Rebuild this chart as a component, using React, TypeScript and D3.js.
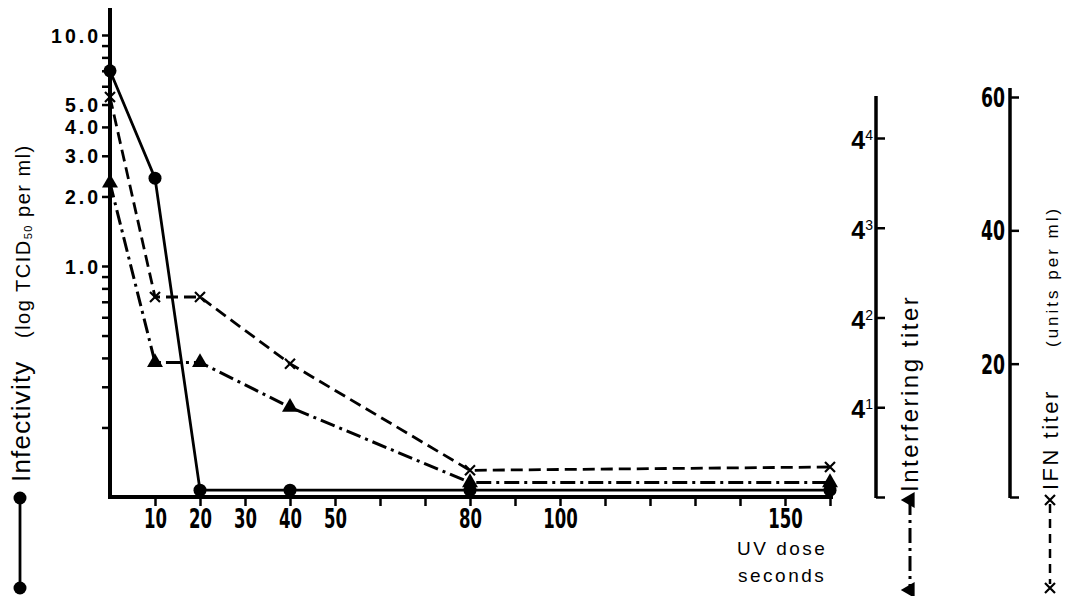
import { useEffect, useRef } from "react";
import * as d3 from "d3";

// UV dose (seconds) at which each sample was measured
const doses = [0, 10, 20, 40, 80, 160];
// infectivity, log TCID50 per ml (left log axis)
const infectivity = [7.0, 2.4, 0.107, 0.107, 0.107, 0.107];
// interfering titer (powers of 4)
const interfering = [128, 8, 8, 4, 1.25, 1.25];
// IFN titer, units per ml
const ifnTiter = [60, 30, 30, 20, 4, 4.5];

const doseTicks = [10, 20, 30, 40, 50, 60, 70, 80, 90, 100, 110, 120, 130, 140, 150, 160];
const doseLabels = [10, 20, 30, 40, 50, 80, 100, 150];
const infLabelTicks = [1, 2, 3, 4, 5, 10];
const infMinorTicks = [0.2, 0.3, 0.4, 0.5, 0.6, 0.7, 0.8, 0.9, 6, 7, 8, 9];
const interferingExps = [1, 2, 3, 4];
const ifnTicks = [20, 40, 60];

const SANS = "'Liberation Sans', Arial, sans-serif";
const NARROW = "'Liberation Sans Narrow', 'DejaVu Sans Condensed', 'Liberation Sans', sans-serif";

export default function App() {
  const ref = useRef(null);

  useEffect(() => {
    const svg = d3.select(ref.current);
    svg.selectAll("*").remove();

    const x = d3.scaleLinear().domain([0, 160]).range([110, 830]);
    const yInf = d3.scaleLog().domain([0.1, 10]).range([497, 35]);
    const yIntf = d3.scaleLog().base(4).domain([1, 256]).range([497, 138]);
    const yIfn = d3.scaleLinear().domain([0, 60]).range([497, 97]);

    // bottom axis
    const gx = svg
      .append("g")
      .attr("transform", "translate(0,497)")
      .call(
        d3
          .axisBottom(x)
          .tickValues(doseTicks)
          .tickSize(9)
          .tickSizeOuter(0)
          .tickFormat((d) => (doseLabels.includes(+d) ? String(d) : ""))
      );
    gx.select(".domain").remove();
    gx.selectAll("line").attr("stroke", "#000").attr("stroke-width", 2.5);
    gx.selectAll("text")
      .attr("y", 31)
      .attr("dy", 0)
      .attr("fill", "#000")
      .attr("font-family", NARROW)
      .attr("font-weight", "bold")
      .attr("font-size", 26)
      .attr("textLength", (d) => String(d).length * 11.5)
      .attr("lengthAdjust", "spacingAndGlyphs");

    // left axis
    const gy = svg
      .append("g")
      .attr("transform", "translate(110,0)")
      .call(
        d3
          .axisLeft(yInf)
          .tickValues([...infLabelTicks, ...infMinorTicks])
          .tickSize(8)
          .tickSizeOuter(0)
          .tickFormat((d) => (infLabelTicks.includes(+d) ? (+d).toFixed(1) : ""))
      );
    gy.select(".domain").remove();
    gy.selectAll("line").attr("stroke", "#000").attr("stroke-width", 2.5);
    gy.selectAll("text")
      .attr("x", -9)
      .attr("dy", 7)
      .attr("fill", "#000")
      .attr("font-family", SANS)
      .attr("font-weight", "bold")
      .attr("font-size", 19.5)
      .attr("letter-spacing", 3);

    svg.append("line")
      .attr("x1", 110).attr("x2", 110).attr("y1", 8).attr("y2", 499)
      .attr("stroke", "#000").attr("stroke-width", 4);
    svg.append("line")
      .attr("x1", 108).attr("x2", 833).attr("y1", 497).attr("y2", 497)
      .attr("stroke", "#000").attr("stroke-width", 4);

    // interfering titer axis
    const gi = svg
      .append("g")
      .attr("transform", "translate(876,0)")
      .call(
        d3
          .axisRight(yIntf)
          .tickValues([1, ...interferingExps.map((e) => Math.pow(4, e))])
          .tickSize(9)
          .tickSizeOuter(0)
          .tickFormat(() => "")
      );
    gi.select(".domain").remove();
    gi.selectAll("line").attr("stroke", "#000").attr("stroke-width", 2.5);
    svg.append("line")
      .attr("x1", 876).attr("x2", 876).attr("y1", 96).attr("y2", 498)
      .attr("stroke", "#000").attr("stroke-width", 3.5);
    const il = svg
      .selectAll("text.intf")
      .data(interferingExps)
      .join("text")
      .attr("class", "intf")
      .attr("x", 873)
      .attr("y", (e) => yIntf(Math.pow(4, e)) + 11)
      .attr("text-anchor", "end")
      .attr("font-family", SANS)
      .attr("fill", "#000");
    il.append("tspan").attr("font-weight", "bold").attr("font-size", 25).text("4");
    il.append("tspan").attr("font-size", 14).attr("dy", -9).text((e) => String(e));

    // IFN titer axis
    const gf = svg
      .append("g")
      .attr("transform", "translate(1010,0)")
      .call(
        d3
          .axisRight(yIfn)
          .tickValues([0, ...ifnTicks])
          .tickSize(9)
          .tickSizeOuter(0)
          .tickFormat(() => "")
      );
    gf.select(".domain").remove();
    gf.selectAll("line").attr("stroke", "#000").attr("stroke-width", 2.5);
    svg.append("line")
      .attr("x1", 1010).attr("x2", 1010).attr("y1", 88).attr("y2", 498)
      .attr("stroke", "#000").attr("stroke-width", 3.5);
    svg.selectAll("text.ifn")
      .data(ifnTicks)
      .join("text")
      .attr("class", "ifn")
      .attr("x", 1005)
      .attr("y", (d) => yIfn(d) + 10)
      .attr("text-anchor", "end")
      .attr("font-family", NARROW)
      .attr("font-weight", "bold")
      .attr("font-size", 26)
      .attr("textLength", 24)
      .attr("lengthAdjust", "spacingAndGlyphs")
      .text((d) => String(d));

    // series
    const pts = doses.map((d, i) => ({ d, inf: infectivity[i], intf: interfering[i], ifn: ifnTiter[i] }));

    svg.append("path")
      .datum(pts)
      .attr("fill", "none").attr("stroke", "#000").attr("stroke-width", 2.8)
      .attr("d", d3.line().x((p) => x(p.d)).y((p) => yInf(p.inf)));
    svg.append("path")
      .datum(pts)
      .attr("fill", "none").attr("stroke", "#000").attr("stroke-width", 3)
      .attr("stroke-dasharray", "15,5,3,5")
      .attr("d", d3.line().x((p) => x(p.d)).y((p) => yIntf(p.intf)));
    svg.append("path")
      .datum(pts)
      .attr("fill", "none").attr("stroke", "#000").attr("stroke-width", 2.8)
      .attr("stroke-dasharray", "12,6")
      .attr("d", d3.line().x((p) => x(p.d)).y((p) => yIfn(p.ifn)));

    svg.selectAll("circle.inf")
      .data(pts)
      .join("circle")
      .attr("class", "inf")
      .attr("cx", (p) => x(p.d))
      .attr("cy", (p) => yInf(p.inf))
      .attr("r", 6.5)
      .attr("fill", "#000");

    const tri = d3.symbol(d3.symbolTriangle, 110);
    svg.selectAll("path.tri")
      .data(pts)
      .join("path")
      .attr("class", "tri")
      .attr("transform", (p) => `translate(${x(p.d)},${yIntf(p.intf)})`)
      .attr("d", tri())
      .attr("fill", "#000");

    const cross = "M-5,-5L5,5M-5,5L5,-5";
    svg.selectAll("path.cross")
      .data(pts)
      .join("path")
      .attr("class", "cross")
      .attr("transform", (p) => `translate(${x(p.d)},${yIfn(p.ifn)})`)
      .attr("d", cross)
      .attr("stroke", "#000")
      .attr("stroke-width", 2.2);

    // axis titles
    const rot = (tx, ty) => `translate(${tx},${ty}) rotate(-90)`;
    svg.append("text")
      .attr("transform", rot(30, 482))
      .attr("font-family", SANS).attr("font-size", 26).attr("letter-spacing", 1.2)
      .text("Infectivity");
    const sub = svg.append("text")
      .attr("transform", rot(30, 338))
      .attr("font-family", SANS).attr("font-size", 20).attr("letter-spacing", 1.5);
    sub.append("tspan").text("(log TCID");
    sub.append("tspan").attr("font-size", 11).attr("dy", 2).text("50");
    sub.append("tspan").attr("dy", -2).text(" per ml)");

    svg.append("text")
      .attr("transform", rot(918, 492))
      .attr("font-family", SANS).attr("font-size", 24).attr("letter-spacing", 2.5)
      .text("Interfering titer");

    svg.append("text")
      .attr("transform", rot(1058, 490))
      .attr("font-family", SANS).attr("font-size", 22).attr("letter-spacing", 2.5)
      .text("IFN titer");
    svg.append("text")
      .attr("transform", rot(1058, 347))
      .attr("font-family", SANS).attr("font-size", 17).attr("letter-spacing", 3)
      .text("(units per ml)");

    svg.append("text")
      .attr("x", 737).attr("y", 555)
      .attr("font-family", SANS).attr("font-size", 19).attr("letter-spacing", 2.5)
      .text("UV dose");
    svg.append("text")
      .attr("x", 738).attr("y", 582)
      .attr("font-family", SANS).attr("font-size", 19).attr("letter-spacing", 2.5)
      .text("seconds");

    // legend keys below the rotated titles
    svg.append("line")
      .attr("x1", 20).attr("x2", 20).attr("y1", 498).attr("y2", 588)
      .attr("stroke", "#000").attr("stroke-width", 2.8);
    svg.selectAll("circle.key")
      .data([498, 588])
      .join("circle")
      .attr("class", "key")
      .attr("cx", 20).attr("cy", (d) => d).attr("r", 6.5).attr("fill", "#000");

    svg.append("line")
      .attr("x1", 910).attr("x2", 910).attr("y1", 500).attr("y2", 590)
      .attr("stroke", "#000").attr("stroke-width", 3)
      .attr("stroke-dasharray", "15,5,3,5");
    svg.selectAll("path.keytri")
      .data([500, 590])
      .join("path")
      .attr("class", "keytri")
      .attr("transform", (d) => `translate(910,${d}) rotate(-90)`)
      .attr("d", tri())
      .attr("fill", "#000");

    svg.append("line")
      .attr("x1", 1050).attr("x2", 1050).attr("y1", 504).attr("y2", 584)
      .attr("stroke", "#000").attr("stroke-width", 2.5)
      .attr("stroke-dasharray", "9,6");
    svg.selectAll("path.keycross")
      .data([500, 588])
      .join("path")
      .attr("class", "keycross")
      .attr("transform", (d) => `translate(1050,${d})`)
      .attr("d", cross)
      .attr("stroke", "#000")
      .attr("stroke-width", 2.2);
  });

  return (
    <svg
      ref={ref}
      width={1072}
      height={596}
      style={{ position: "absolute", left: 0, top: 0, background: "#fff" }}
    ></svg>
  );
}
